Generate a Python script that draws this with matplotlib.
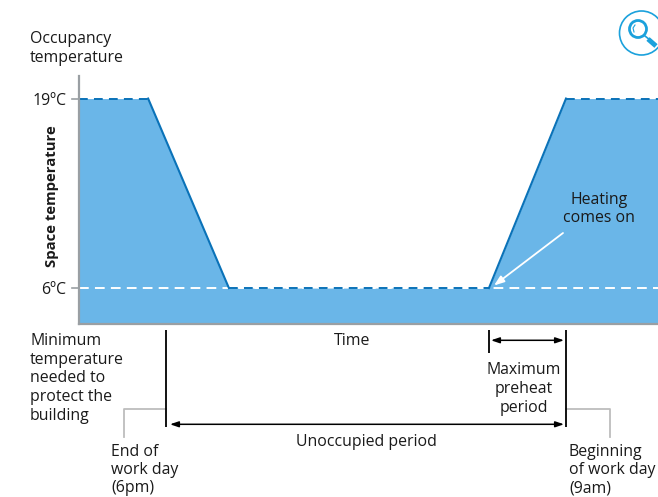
import matplotlib
matplotlib.use("Agg")
import matplotlib.pyplot as plt
from matplotlib.transforms import Affine2D
from matplotlib.patches import Circle

plt.rcParams['font.family'] = ['Open Sans', 'DejaVu Sans']

# Data: hours after the end of the work day, space temperature in deg C
time_hours = [-3.26, -0.67, 2.36, 12.11, 15.0, 18.45]
space_temp = [19, 19, 6, 6, 19, 19]
occupancy_temp = 19
minimum_temp = 6
end_of_day = 0
start_of_day = 15
heating_on = 12.11
temp_ticks = [19, 6]
temp_tick_labels = ['19ºC', '6ºC']
floor_temp = 3.57
axis_top_temp = 20.54

W, H = 658, 497
fig = plt.figure(figsize=(W / 100, H / 100), dpi=100)
ax = fig.add_axes([0, 0, 1, 1])
ax.set_xlim(-6.225, 18.45)
ax.set_ylim(-8.33, 25.76)
ax.axis('off')
px = Affine2D().scale(1 / W, -1 / H).translate(0, 1) + fig.transFigure

FILL = '#6AB6E8'
BLUE = '#0A72B8'
GREY = '#9A9FA3'
LGREY = '#BDBDBD'
TXT = '#1a1a1a'
FS = 11.4

ax.fill_between(time_hours, space_temp, floor_temp, color=FILL, lw=0, zorder=1)
x0 = time_hours[0]

# Sloped profile edges
ax.plot(time_hours[1:3], space_temp[1:3], color=BLUE, lw=1.5, zorder=3)
ax.plot(time_hours[3:5], space_temp[3:5], color=BLUE, lw=1.5, zorder=3)

# Dashed levels
ax.plot([x0, time_hours[-1]], [minimum_temp] * 2, color='white', lw=1.4, dashes=(5, 3.2), zorder=2)
ax.plot(time_hours[2:4], space_temp[2:4], color=BLUE, lw=1.4, dashes=(4.5, 3.2), zorder=3)
ax.plot([x0, time_hours[1]], [occupancy_temp + 0.05] * 2, color='white', lw=1.2, zorder=2)
ax.plot([time_hours[4], time_hours[5]], [occupancy_temp + 0.05] * 2, color='white', lw=1.2, zorder=2)
ax.plot([x0, time_hours[1]], [occupancy_temp] * 2, color=BLUE, lw=1.4, dashes=(4.5, 3.2), zorder=3)
ax.plot([time_hours[4], time_hours[5]], [occupancy_temp] * 2, color=BLUE, lw=1.4, dashes=(4.5, 3.2), zorder=3)

# Axes lines and ticks
ax.plot([x0, x0], [floor_temp, axis_top_temp], color=GREY, lw=1.6, zorder=4)
ax.plot([x0, time_hours[-1]], [floor_temp, floor_temp], color=GREY, lw=1.6, zorder=4)
for t, lab in zip(temp_ticks, temp_tick_labels):
    ax.plot([x0 - 0.27, x0], [t, t], color=GREY, lw=1.2, zorder=4)
    ax.annotate(lab, (x0, t), xytext=(-13, 0), textcoords='offset pixels', ha='right', va='center_baseline',
                fontsize=FS, color=TXT)

def T(x, y, s, **kw):
    kw.setdefault('fontsize', FS)
    kw.setdefault('color', TXT)
    kw.setdefault('va', 'center')
    kw.setdefault('linespacing', 1.22)
    ax.text(x, y, s, transform=px, **kw)

T(30, 48.5, 'Occupancy\ntemperature')
T(52, 196, 'Space temperature', rotation=90, ha='center', fontweight='bold', fontsize=10.7)
T(30, 378.5, 'Minimum\ntemperature\nneeded to\nprotect the\nbuilding')
T(352, 341, 'Time', ha='center')
T(524, 389, 'Maximum\npreheat\nperiod', ha='center', multialignment='center')
T(599, 209, 'Heating\ncomes on', ha='center', multialignment='center')
T(366, 442, 'Unoccupied period', ha='center')
T(111, 470, 'End of\nwork day\n(6pm)', linespacing=1.18)
T(569, 470, 'Beginning\nof work day\n(9am)', linespacing=1.18)

# Vertical markers below the chart
for x_h, y0, y1 in [(end_of_day, 330, 427), (start_of_day, 330, 427), (heating_on, 330, 353)]:
    px_x = 166 + x_h * (400 / 15)
    ax.plot([px_x, px_x], [y0, y1], transform=px, color='black', lw=1.3, zorder=5, solid_capstyle='butt')

# Double arrows
def arrow(x1, x2, y):
    ax.annotate('', xy=(x2, y), xytext=(x1, y), xycoords=px, textcoords=px,
                arrowprops=dict(arrowstyle='<|-|>,head_length=0.5,head_width=0.17', color='black', lw=1.1,
                                shrinkA=0, shrinkB=0))
arrow(170, 564, 424.3)
arrow(491, 564, 340.3)

# Grey leaders
ax.plot([166, 124, 124], [408.7, 408.7, 437], transform=px, color=LGREY, lw=1.3, zorder=2)
ax.plot([566, 610, 610], [408.7, 408.7, 437], transform=px, color=LGREY, lw=1.3, zorder=2)

# Heating arrow
ax.annotate('', xy=(494, 285.5), xytext=(563, 233), xycoords=px, textcoords=px, zorder=6,
            arrowprops=dict(arrowstyle='-|>,head_length=0.6,head_width=0.22', color='white', lw=1.3,
                            shrinkA=0, shrinkB=0))

# Magnifier icon
ICON = '#1BA1DC'
ax.add_patch(Circle((641.5, 33), 22, transform=px, fill=False, ec=ICON, lw=1.2))
ax.add_patch(Circle((638, 29), 8.5, transform=px, fill=False, ec=ICON, lw=2.0))
ax.plot([645, 650], [36, 40], transform=px, color=ICON, lw=1.2)
ax.plot([648, 656], [39, 46], transform=px, color=ICON, lw=3.5, solid_capstyle='butt')
ax.plot([634, 633, 635], [32, 28, 25], transform=px, color=ICON, lw=0.8)

fig.savefig('out.png', dpi=100)
